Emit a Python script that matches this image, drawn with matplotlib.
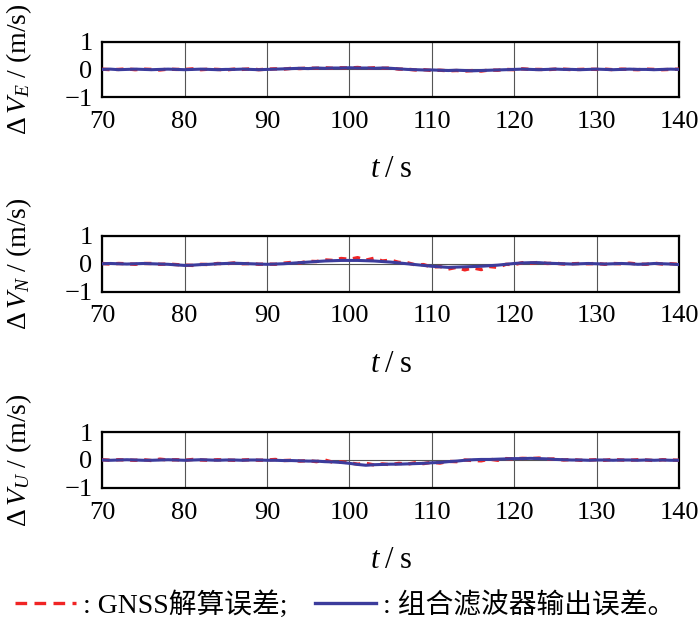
import matplotlib
matplotlib.use("Agg")
import matplotlib.pyplot as plt
from matplotlib.lines import Line2D
from matplotlib.font_manager import FontProperties

plt.rcParams["font.family"] = ["Liberation Serif", "Noto Sans CJK SC"]
plt.rcParams["mathtext.fontset"] = "custom"
plt.rcParams["mathtext.rm"] = "Liberation Serif"
plt.rcParams["mathtext.it"] = "Liberation Serif:italic"
plt.rcParams["axes.unicode_minus"] = True

# 时间轴 (s)
t = list(range(70, 141))

# 东向速度误差
ve_gnss = [0.01, -0.01, 0.00, 0.02, -0.01, 0.01, 0.00, -0.02, 0.01, 0.00,
           0.00, 0.02, -0.01, 0.01, 0.00, -0.02, 0.01, 0.00, 0.02, -0.01,
           0.01, 0.02, 0.01, 0.04, 0.03, 0.05, 0.04, 0.06, 0.04, 0.06,
           0.05, 0.07, 0.04, 0.06, 0.04, 0.05, 0.01, 0.01, -0.02, -0.01,
           -0.04, -0.03, -0.05, -0.04, -0.06, -0.04, -0.06, -0.02, -0.03, 0.00,
           -0.01, 0.02, 0.00, 0.00, -0.01, 0.01, 0.01, -0.01, 0.00, 0.01,
           0.00, 0.01, -0.01, 0.01, 0.00, -0.01, 0.01, 0.00, -0.01, 0.00, 0.01]
ve_filt = [0.00, 0.01, -0.01, 0.00, 0.01, 0.00, -0.01, 0.00, 0.01, 0.00,
           -0.01, 0.00, 0.01, 0.00, -0.01, 0.00, 0.00, 0.01, 0.00, -0.01,
           0.00, 0.01, 0.02, 0.03, 0.04, 0.03, 0.05, 0.04, 0.05, 0.05,
           0.06, 0.05, 0.05, 0.04, 0.05, 0.04, 0.02, 0.00, -0.01, -0.02,
           -0.02, -0.03, -0.04, -0.03, -0.04, -0.05, -0.04, -0.03, -0.02, -0.01,
           0.00, 0.01, 0.00, -0.01, 0.00, 0.01, 0.00, 0.00, -0.01, 0.00,
           0.01, 0.00, -0.01, 0.00, 0.01, 0.00, 0.00, -0.01, 0.00, 0.01, 0.00]

# 北向速度误差
vn_gnss = [0.01, -0.01, 0.01, 0.00, -0.02, 0.01, 0.01, -0.02, -0.01, -0.03,
           -0.05, -0.06, -0.02, -0.03, 0.01, 0.00, 0.03, 0.00, 0.01, -0.02,
           -0.01, -0.02, 0.02, 0.05, 0.03, 0.09, 0.08, 0.14, 0.12, 0.19,
           0.16, 0.22, 0.13, 0.20, 0.10, 0.13, 0.05, 0.04, -0.04, -0.03,
           -0.12, -0.10, -0.19, -0.13, -0.22, -0.15, -0.21, -0.10, -0.13, -0.02,
           -0.03, 0.04, 0.02, 0.05, 0.01, 0.02, -0.01, 0.00, 0.01, 0.00,
           0.01, -0.02, 0.01, 0.00, 0.02, -0.01, -0.02, 0.02, -0.01, 0.00, -0.02]
vn_filt = [0.00, 0.01, 0.00, -0.01, 0.00, 0.01, 0.00, -0.01, -0.02, -0.04,
           -0.06, -0.05, -0.03, -0.02, 0.00, 0.01, 0.02, 0.01, 0.00, -0.01,
           -0.02, -0.01, 0.00, 0.02, 0.04, 0.06, 0.08, 0.10, 0.11, 0.12,
           0.12, 0.12, 0.11, 0.10, 0.08, 0.06, 0.03, 0.00, -0.03, -0.06,
           -0.09, -0.11, -0.13, -0.12, -0.11, -0.10, -0.09, -0.07, -0.05, -0.02,
           0.01, 0.03, 0.04, 0.04, 0.02, 0.01, 0.00, -0.01, 0.00, 0.01,
           0.00, -0.01, 0.00, 0.01, 0.00, -0.02, -0.01, 0.01, 0.00, -0.01, -0.03]

# 天向速度误差
vu_gnss = [0.01, -0.01, 0.01, 0.00, -0.01, 0.01, -0.02, 0.03, 0.00, 0.01,
           -0.01, 0.02, 0.00, -0.01, 0.01, 0.00, -0.01, 0.00, 0.01, -0.01,
           0.00, 0.02, -0.02, -0.01, -0.04, -0.02, -0.06, 0.00, -0.08, -0.07,
           -0.10, -0.15, -0.12, -0.18, -0.14, -0.17, -0.12, -0.15, -0.10, -0.13,
           -0.08, -0.11, -0.05, -0.06, 0.00, -0.02, -0.03, 0.03, -0.01, 0.05,
           0.04, 0.06, 0.05, 0.07, 0.03, 0.04, 0.00, 0.02, -0.01, 0.00,
           0.01, -0.01, 0.02, 0.00, -0.01, 0.01, 0.00, -0.02, 0.01, 0.00, -0.01]
vu_filt = [0.00, -0.01, 0.00, 0.01, 0.00, -0.01, -0.01, 0.00, 0.01, 0.00,
           -0.01, 0.00, 0.01, 0.00, -0.01, 0.00, 0.00, -0.01, 0.00, 0.00,
           -0.01, -0.01, -0.02, -0.02, -0.03, -0.04, -0.04, -0.06, -0.07, -0.09,
           -0.12, -0.16, -0.19, -0.17, -0.16, -0.15, -0.15, -0.14, -0.13, -0.12,
           -0.10, -0.09, -0.06, -0.04, -0.01, 0.01, 0.02, 0.02, 0.03, 0.04,
           0.05, 0.05, 0.06, 0.05, 0.04, 0.02, 0.01, 0.00, 0.00, -0.01,
           0.00, 0.00, -0.01, 0.00, 0.00, -0.01, 0.00, -0.01, 0.00, -0.01, -0.01]

ylabels = [r"$\Delta\,V_E$ / (m/s)", r"$\Delta\,V_N$ / (m/s)",
           r"$\Delta\,V_U$ / (m/s)"]
xlabel = "$t$\u2009/\u2009s"
xticks = [70, 80, 90, 100, 110, 120, 130, 140]
yticks = [-1, 0, 1]
legend_labels = [": GNSS解算误差;", ": 组合滤波器输出误差。"]

RED = "#f02424"
BLUE = "#3c3c9c"
DASH = (0, (2.2, 2.0))

fig = plt.figure(figsize=(7.0, 6.31), dpi=100)
bottoms = [0.846, 0.538, 0.227]
series = [(ve_gnss, ve_filt), (vn_gnss, vn_filt), (vu_gnss, vu_filt)]

for b, (g, f), yl in zip(bottoms, series, ylabels):
    ax = fig.add_axes([0.146, b, 0.824, 0.088])
    ax.plot(t, g, color=RED, linestyle=DASH, linewidth=2.4, zorder=3)
    ax.plot(t, f, color=BLUE, linewidth=2.2, zorder=4)
    ax.set_xlim(70, 140)
    ax.set_ylim(-1, 1)
    ax.set_xticks(xticks)
    ax.set_yticks(yticks)
    ax.grid(True, color="#555555", linewidth=0.8)
    ax.tick_params(axis="both", labelsize=19, length=0)
    ax.tick_params(axis="x", pad=10)
    ax.tick_params(axis="y", pad=7)
    for s in ax.spines.values():
        s.set_linewidth(1.6)
    ax.set_ylabel(yl, fontsize=20)
    ax.yaxis.set_label_coords(-0.118, 0.5)
    ax.set_xlabel(xlabel, fontsize=22)
    ax.xaxis.set_label_coords(0.5, -1.05)

handles = [Line2D([], [], color=RED, linestyle=(0, (3.5, 2.2)), linewidth=2.4),
           Line2D([], [], color=BLUE, linewidth=2.4)]
prop = FontProperties(family=["Liberation Serif", "Noto Sans CJK SC"], size=20)
fig.legend(handles, legend_labels, loc="center", bbox_to_anchor=(0.493, 0.041),
           ncol=2, frameon=False, prop=prop, handlelength=2.2,
           handletextpad=0.25, columnspacing=1.0)

fig.savefig("out.png", dpi=100)
